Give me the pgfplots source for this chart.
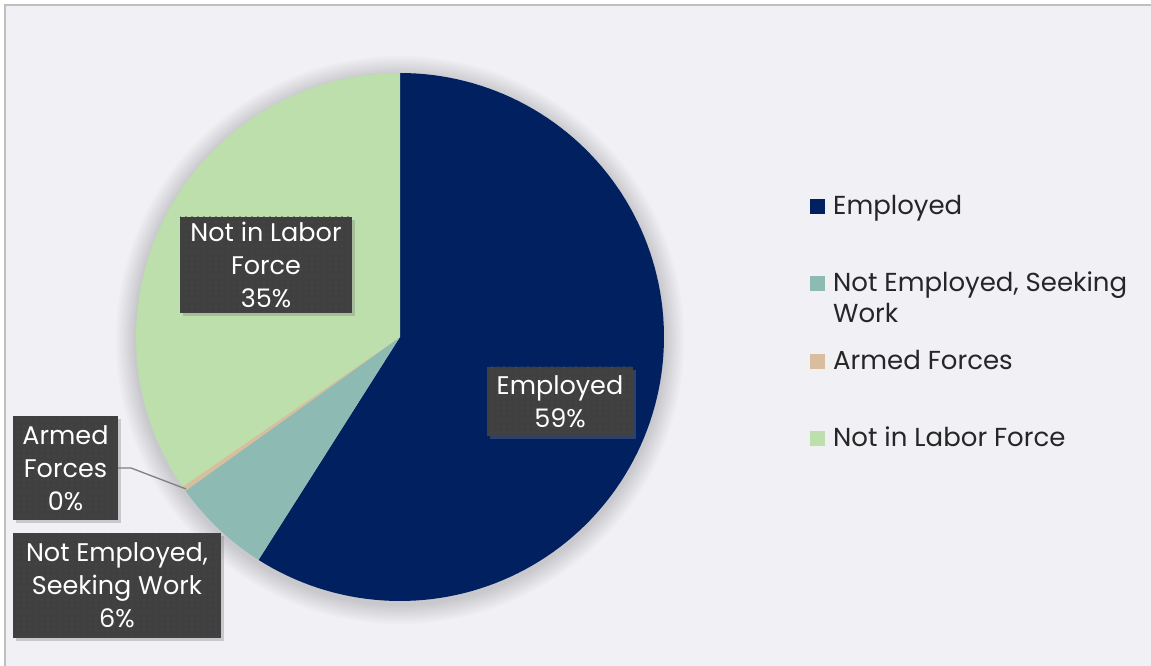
\documentclass[border=0pt]{standalone}
\usepackage{pgfplots}
\pgfplotsset{compat=1.18}
\usepackage{fontspec}
\setmainfont{Poppins}
\usetikzlibrary{patterns.meta,shadows}

\definecolor{bgcol}{HTML}{F0F0F5}
\definecolor{framecol}{HTML}{BFBFBF}
\definecolor{empcol}{HTML}{002060}
\definecolor{nescol}{HTML}{8DBBB4}
\definecolor{armcol}{HTML}{D8BE9C}
\definecolor{nilfcol}{HTML}{BCDFAB}
\definecolor{boxcol}{HTML}{404040}
\definecolor{dotcol}{HTML}{494949}
\definecolor{legtext}{HTML}{262626}

% shares in percent, clockwise from 12 o'clock
\def\vEmp{59.0}
\def\vNes{6.1}
\def\vArm{0.3}
\def\vNilf{34.6}

\pgfmathsetmacro\aA{90}
\pgfmathsetmacro\aB{\aA-3.6*\vEmp}
\pgfmathsetmacro\aC{\aB-3.6*\vNes}
\pgfmathsetmacro\aD{\aC-3.6*\vArm}
\pgfmathsetmacro\aE{\aD-3.6*\vNilf}

\newcommand\legent[1]{\raisebox{0pt}[17pt][6pt]{\begin{tabular}[t]{@{}l@{}}#1\end{tabular}}}

\begin{document}
\begin{tikzpicture}[x=1pt,y=1pt,
  lbl/.style={fill=boxcol, text=white, align=center, inner sep=0pt,
    font=\fontsize{25.5}{33}\selectfont,
    postaction={pattern={Dots[distance=6pt,radius=0.8pt]}, pattern color=dotcol},
    drop shadow={shadow xshift=3pt, shadow yshift=-3pt, opacity=0.35}}]
\useasboundingbox (0,0) rectangle (1151,666);
\fill[white] (0,0) rectangle (1151,666);
\fill[bgcol] (5,0) rectangle (1151,661);
\draw[framecol, line width=2pt] (5,0) -- (5,661) -- (1151,661);

% soft shadow round the pie
\foreach \i in {1,...,10}
  \fill[black, opacity=0.015] (400,326) circle[radius=264+2*\i];

\begin{axis}[
  at={(400pt,329pt)}, anchor=origin,
  x=264pt, y=264pt,
  xmin=-1.51515, xmax=2.84470, ymin=-1.24621, ymax=1.27652,
  hide axis, clip=false,
  legend cell align=left,
  legend image code/.code={\fill[#1] (0pt,-7.5pt) rectangle (15pt,7.5pt);},
  legend style={at={(0.7037,0.7072)}, anchor=north west, draw=none, fill=none,
    inner sep=0pt, row sep=55pt, text=legtext,
    font=\fontsize{26}{31}\selectfont,
    cells={anchor=west},
    /tikz/every odd column/.append style={column sep=6pt}},
]
\addplot[fill=empcol, draw=none, domain=\aB:\aA, samples=120, variable=\t]
  ({cos(\t)}, {sin(\t)}) -- (axis cs:0,0) -- cycle;
\addlegendentry{\legent{Employed}}
\addplot[fill=nescol, draw=none, domain=\aC:\aB, samples=30, variable=\t]
  ({cos(\t)}, {sin(\t)}) -- (axis cs:0,0) -- cycle;
\addlegendentry{\legent{Not Employed, Seeking\\Work}}
\addplot[fill=armcol, draw=none, domain=\aD:\aC, samples=4, variable=\t]
  ({cos(\t)}, {sin(\t)}) -- (axis cs:0,0) -- cycle;
\addlegendentry{\legent{Armed Forces}}
\addplot[fill=nilfcol, draw=none, domain=\aE:\aD, samples=80, variable=\t]
  ({cos(\t)}, {sin(\t)}) -- (axis cs:0,0) -- cycle;
\addlegendentry{\legent{Not in Labor Force}}
\end{axis}

% data labels
\draw[gray, line width=1.3pt] (118,198) -- (131,198) -- (186,177);
\node[lbl, minimum width=172pt, minimum height=96pt] at (266,401) {Not in Labor\\Force\\35\%};
\node[lbl, minimum width=146pt, minimum height=69pt] at (560,264.5) {Employed\\59\%};
\node[lbl, minimum width=105pt, minimum height=104pt] at (65.5,198) {Armed\\Forces\\0\%};
\node[lbl, minimum width=208pt, minimum height=105pt] at (117,80.5) {Not Employed,\\Seeking Work\\6\%};
\end{tikzpicture}
\end{document}
